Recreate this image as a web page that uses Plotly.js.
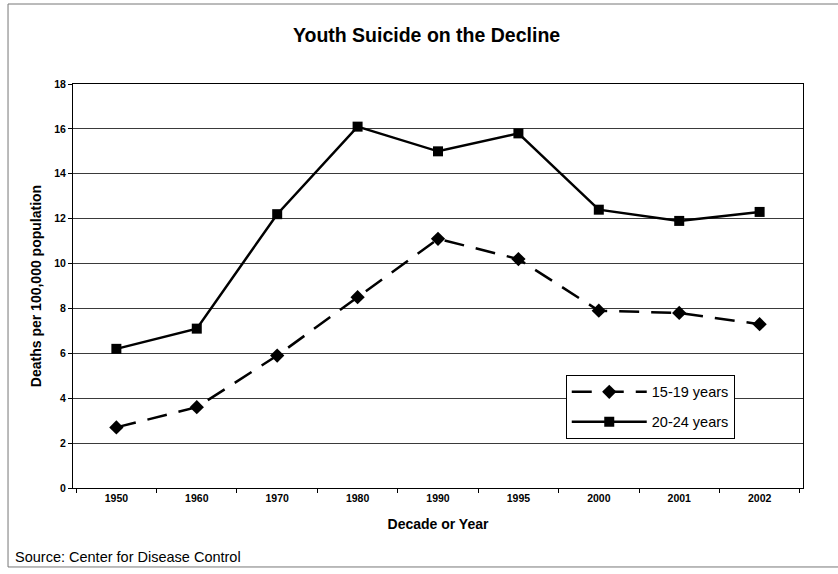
<!DOCTYPE html>
<html>
<head>
<meta charset="utf-8">
<script src="https://cdn.plot.ly/plotly-3.0.1.min.js"></script>
<style>html,body{margin:0;padding:0;background:#fff;}#chart{width:838px;height:574px;}</style>
</head>
<body>
<div id="chart"></div>
<script>
const categories = ["1950", "1960", "1970", "1980", "1990", "1995", "2000", "2001", "2002"];
const teens15to19 = [2.7, 3.6, 5.9, 8.5, 11.1, 10.2, 7.9, 7.8, 7.3];
const adults20to24 = [6.2, 7.1, 12.2, 16.1, 15.0, 15.8, 12.4, 11.9, 12.3];
const seriesNames = ["15-19 years", "20-24 years"];
const yTicks = [0, 2, 4, 6, 8, 10, 12, 14, 16, 18];

const FONT = "Liberation Sans, Arial, sans-serif";

const traces = [
  {
    x: categories, y: teens15to19, name: seriesNames[0], type: "scatter", mode: "lines+markers",
    legendgroup: "a",
    line: {color: "#000", width: 2.5, dash: "20px,12px"},
    marker: {symbol: "diamond", size: 11, color: "#000"}
  },
  {
    x: categories, y: adults20to24, name: seriesNames[1], type: "scatter", mode: "lines+markers",
    legendgroup: "b",
    line: {color: "#000", width: 2.5},
    marker: {symbol: "square", size: 10, color: "#000"}
  }
];

const layout = {
  width: 838, height: 574,
  margin: {l: 73, r: 35, t: 84, b: 86},
  paper_bgcolor: "#fff", plot_bgcolor: "#fff",
  font: {family: FONT, color: "#000", size: 11},
  title: {text: "<b>Youth Suicide on the Decline</b>", font: {family: FONT, size: 19.5, color: "#000"},
          x: 0.509, xanchor: "center", y: 0.939, yanchor: "middle", xref: "container", yref: "container"},
  xaxis: {
    type: "category", categoryorder: "array", categoryarray: categories,
    title: {text: "<b>Decade or Year</b>", font: {family: FONT, size: 14}, standoff: 16},
    showline: true, linecolor: "#000", linewidth: 1, mirror: true,
    ticks: "outside", tickson: "boundaries", ticklen: 4, tickcolor: "#000",
    tickfont: {family: FONT, size: 10.5, weight: "bold"}, showgrid: false, automargin: false
  },
  yaxis: {
    range: [0, 18], tickvals: yTicks, ticktext: yTicks.map(String),
    title: {text: "<b>Deaths per 100,000 population</b>", font: {family: FONT, size: 14}, standoff: 9},
    showline: true, linecolor: "#000", linewidth: 1, mirror: true,
    ticks: "outside", ticklen: 4, tickcolor: "#000",
    showgrid: true, gridcolor: "#3a3a3a", gridwidth: 1, zeroline: false,
    tickfont: {family: FONT, size: 10.5, weight: "bold"}, automargin: false
  },
  legend: {
    x: 0.675, y: 0.28, xanchor: "left", yanchor: "top",
    bgcolor: "#fff", bordercolor: "#000", borderwidth: 1,
    font: {family: FONT, size: 14.5}, tracegroupgap: 8, itemwidth: 75
  },
  shapes: [
    {type: "rect", xref: "paper", yref: "paper", x0: -0.089, x1: 1.1, y0: -0.1955, y1: 1.198,
     line: {color: "#777", width: 1}, fillcolor: "rgba(0,0,0,0)", layer: "below"}
  ],
  annotations: [
    {text: "Source: Center for Disease Control", xref: "paper", yref: "paper",
     x: -0.082, y: -0.172, xanchor: "left", yanchor: "middle", showarrow: false,
     font: {family: FONT, size: 14.5, color: "#000"}}
  ]
};

Plotly.newPlot("chart", traces, layout, {displayModeBar: false, staticPlot: true});
</script>
</body>
</html>
